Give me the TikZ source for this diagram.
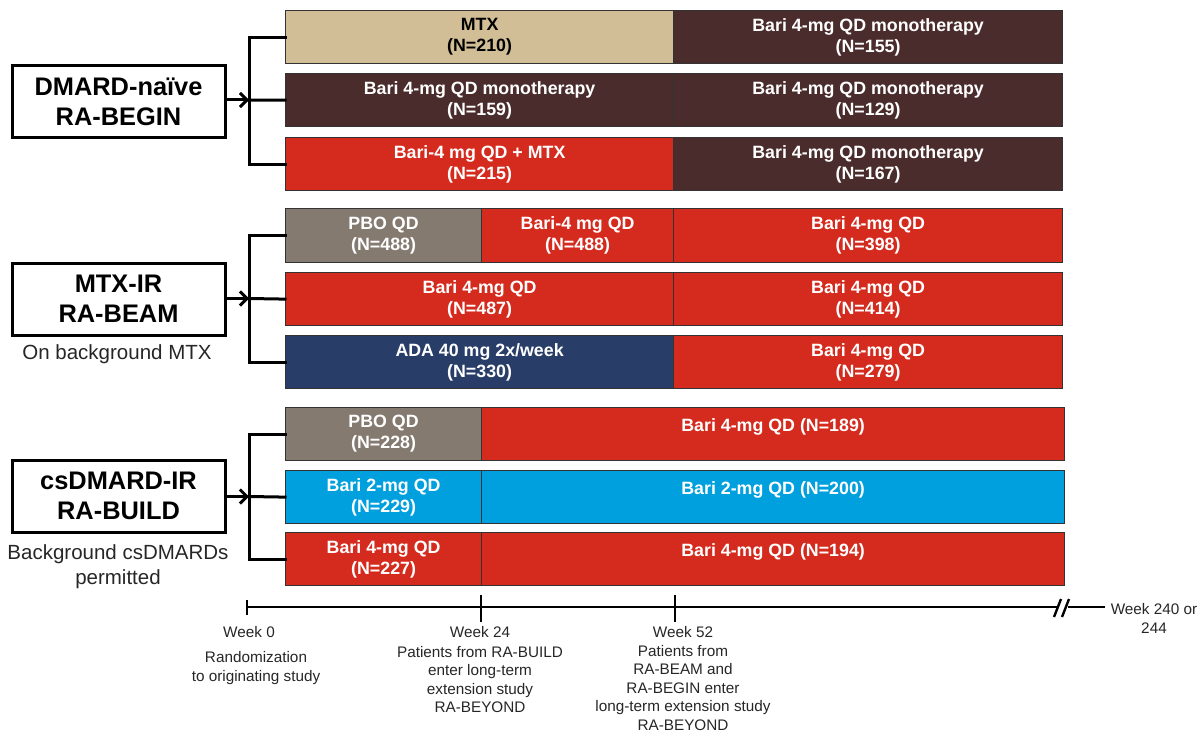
\documentclass[tikz,border=0pt]{standalone}
\usepackage{fontspec}
\setmainfont{Liberation Sans}
\usetikzlibrary{arrows.meta}

\definecolor{mtxTan}{RGB}{210,190,150}
\definecolor{bariBrown}{RGB}{75,44,44}
\definecolor{bariRed}{RGB}{213,43,30}
\definecolor{pboGrey}{RGB}{133,122,112}
\definecolor{adaNavy}{RGB}{40,62,105}
\definecolor{bariCyan}{RGB}{0,160,222}

% extra room above the first label line, so two-line labels sit a little low
\newcommand\firstlinepad{\rule{0pt}{18pt}}

\begin{document}
\begin{tikzpicture}[x=1pt,y=-1pt,
  bar/.style={draw=black!80, line width=1.2pt, anchor=north west,
    minimum height=53pt, inner sep=0pt, align=center, text=white,
    font=\bfseries\fontsize{17.8}{21}\selectfont,
    execute at begin node=\firstlinepad},
  bartext/.style={inner sep=0pt, text=white, font=\bfseries\fontsize{17.8}{21}\selectfont},
  study/.style={draw=black, line width=3pt, fill=white, minimum width=213pt,
    minimum height=72pt, inner sep=0pt, align=center,
    font=\bfseries\fontsize{25.4}{30}\selectfont},
  note/.style={inner sep=0pt, align=center, text=black!85,
    font=\fontsize{20.5}{25}\selectfont},
  brk/.style={line width=3pt, line cap=rect},
  arr/.style={line width=3pt, -{Straight Barb[length=7pt,width=14pt]}},
  axis/.style={line width=2.7pt},
  wk/.style={inner sep=0pt, anchor=base, text=black!85, font=\fontsize{15.3}{18.4}\selectfont},
  wkdesc/.style={inner sep=0pt, anchor=north, align=center, text=black!85,
    font=\fontsize{15.3}{18.4}\selectfont},
]
\useasboundingbox (0,0) rectangle (1202,733);

% ---------- RA-BEGIN ----------
\node[bar, fill=mtxTan, text=black, minimum width=388pt] (b1a) at (285,10) {MTX\\(N=210)};
\node[bar, fill=bariBrown, minimum width=389pt] (b1b) at (673,10) {Bari 4-mg QD monotherapy\\(N=155)};
\node[bar, fill=bariBrown, minimum width=388pt] (b2a) at (285,73) {Bari 4-mg QD monotherapy\\(N=159)};
\node[bar, fill=bariBrown, minimum width=389pt] (b2b) at (673,73) {Bari 4-mg QD monotherapy\\(N=129)};
\node[bar, fill=bariRed, minimum width=388pt] (b3a) at (285,137) {Bari-4 mg QD + MTX\\(N=215)};
\node[bar, fill=bariBrown, minimum width=389pt] (b3b) at (673,137) {Bari 4-mg QD monotherapy\\(N=167)};

\node[study] (begin) at (118.5,102) {DMARD-naïve\\RA-BEGIN};
\coordinate (j1) at (249,100);
\draw[brk] (b1a.west) -| (j1) |- (b3a.west);
\draw[brk] (j1) -- (b2a.west);
\draw[arr] (begin.east |- j1) -- (j1);

% ---------- RA-BEAM ----------
\node[bar, fill=pboGrey, minimum width=196pt, minimum height=54pt] (m1a) at (285,208) {PBO QD\\(N=488)};
\node[bar, fill=bariRed, minimum width=192pt, minimum height=54pt] (m1b) at (481,208) {Bari-4 mg QD\\(N=488)};
\node[bar, fill=bariRed, minimum width=389pt, minimum height=54pt] (m1c) at (673,208) {Bari 4-mg QD\\(N=398)};
\node[bar, fill=bariRed, minimum width=388pt] (m2a) at (285,272) {Bari 4-mg QD\\(N=487)};
\node[bar, fill=bariRed, minimum width=389pt] (m2b) at (673,272) {Bari 4-mg QD\\(N=414)};
\node[bar, fill=adaNavy, minimum width=388pt] (m3a) at (285,335) {ADA 40 mg 2x/week\\(N=330)};
\node[bar, fill=bariRed, minimum width=389pt] (m3b) at (673,335) {Bari 4-mg QD\\(N=279)};

\node[study] (beam) at (118.5,299) {MTX-IR\\RA-BEAM};
\node[note] (beamnote) at (117,354) {On background MTX};
\coordinate (j2) at (249,298.5);
\draw[brk] (m1a.west) -| (j2) |- (m3a.west);
\draw[brk] (j2) -- (m2a.west);
\draw[arr] (beam.east |- j2) -- (j2);

% ---------- RA-BUILD ----------
\node[bar, fill=pboGrey, minimum width=196pt] (u1a) at (285,407) {PBO QD\\(N=228)};
\node[bar, fill=bariRed, minimum width=583pt] (u1b) at (481,407) {};
\node[bartext] at ([yshift=7.5pt]u1b.center) {Bari 4-mg QD (N=189)};
\node[bar, fill=bariCyan, minimum width=196pt] (u2a) at (285,470) {Bari 2-mg QD\\(N=229)};
\node[bar, fill=bariCyan, minimum width=583pt] (u2b) at (481,470) {};
\node[bartext] at ([yshift=7.5pt]u2b.center) {Bari 2-mg QD (N=200)};
\node[bar, fill=bariRed, minimum width=196pt] (u3a) at (285,532) {Bari 4-mg QD\\(N=227)};
\node[bar, fill=bariRed, minimum width=583pt] (u3b) at (481,532) {};
\node[bartext] at ([yshift=7.5pt]u3b.center) {Bari 4-mg QD (N=194)};

\node[study] (build) at (118.5,496) {csDMARD-IR\\RA-BUILD};
\node[note, anchor=north] (buildnote) at (118,544) {Background csDMARDs\\permitted};
\coordinate (j3) at (249,496.5);
\draw[brk] (u1a.west) -| (j3) |- (u3a.west);
\draw[brk] (j3) -- (u2a.west);
\draw[arr] (build.east |- j3) -- (j3);

% ---------- timeline ----------
\coordinate (w0) at (247,607);
\coordinate (w24) at (481,607);
\coordinate (w52) at (675,607);
\coordinate (cutL) at (1057,607);
\coordinate (cutR) at (1068,607);
\coordinate (wend) at (1105,607);
\draw[axis] (w0) -- (cutL);
\draw[axis] (cutR) -- (wend);
\draw[axis] ([yshift=7pt]w0) -- ([yshift=-8pt]w0);
\draw[axis] ([yshift=12pt]w24) -- ([yshift=-15pt]w24);
\draw[axis] ([yshift=12pt]w52) -- ([yshift=-15pt]w52);
\draw[line width=2.4pt] (1054,617) -- (1061,599);
\draw[line width=2.4pt] (1062,617) -- (1069,599);

\node[wk] (lw0) at (249,637.4) {Week 0};
\node[wkdesc, font=\fontsize{15.3}{19}\selectfont] (dw0) at (256,651.5) {Randomization\\to originating study};
\node[wk] (lw24) at (480,637.4) {Week 24};
\node[wkdesc] (dw24) at (480,646) {Patients from RA-BUILD\\enter long-term\\extension study\\RA-BEYOND};
\node[wk] (lw52) at (683,637.4) {Week 52};
\node[wkdesc] (dw52) at (683,645.2) {Patients from\\RA-BEAM and\\RA-BEGIN enter\\long-term extension study\\RA-BEYOND};
\node[wkdesc, font=\fontsize{15.3}{18.7}\selectfont] (lwend) at (1154,603.5) {Week 240 or\\244};
\end{tikzpicture}
\end{document}
